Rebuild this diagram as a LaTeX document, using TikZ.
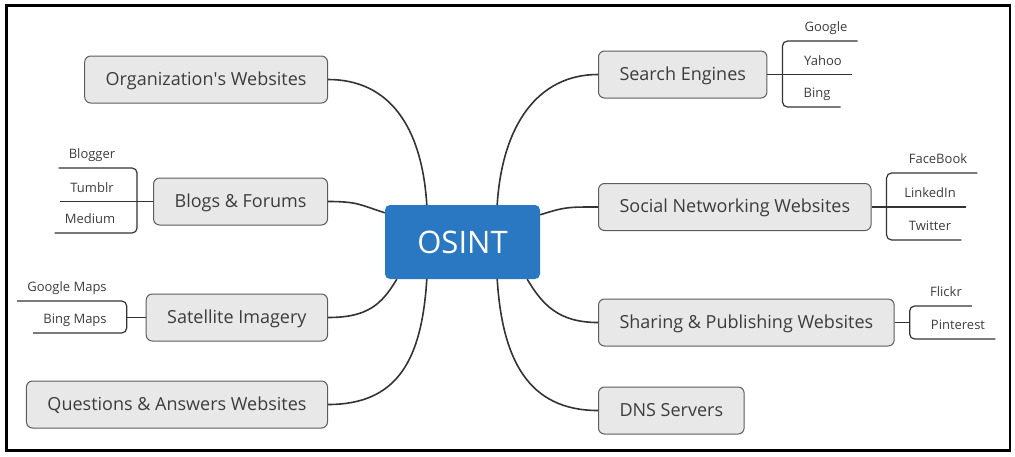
\documentclass[tikz,border=0pt]{standalone}
\usepackage{fontspec}
\setmainfont{Open Sans}
\definecolor{topicblue}{HTML}{2A78C2}
\definecolor{topicfill}{HTML}{E8E8E8}
\definecolor{topicedge}{HTML}{5C5C5C}
\definecolor{topictext}{HTML}{3C3C3C}
\definecolor{linkgray}{HTML}{333333}
\begin{document}
\begin{tikzpicture}[x=1pt, y=-1pt,
    topic/.style={draw=topicedge, fill=topicfill, rounded corners=6pt, line width=1pt,
        minimum height=47pt, inner xsep=21pt, text height=13pt, text depth=2pt,
        text=topictext, font=\fontsize{18}{21}\selectfont},
    leaf/.style={inner xsep=10pt, inner ysep=9pt, text depth=0pt, anchor=south,
        text=topictext, font=\fontsize{13}{15}\selectfont},
    branch/.style={line width=1.6pt, draw=linkgray},
    leafline/.style={line width=1.2pt, draw=linkgray, rounded corners=5pt}]

    % --- Khung ---
    \useasboundingbox (0,0) rectangle (1015,456);
    \draw[line width=2.5pt] (6.5,5.5) rectangle (1010,450.5);

    % --- Nút trung tâm ---
    \node[fill=topicblue, rounded corners=5pt, minimum width=155pt, minimum height=74pt,
        text=white, font=\fontsize{31}{36}\selectfont] (osint) at (462.5,242) {OSINT};

    % --- Nhánh bên trái ---
    \node[topic, anchor=east] (org) at (328,79.5) {Organization\textquotesingle s Websites};
    \node[topic, anchor=east] (blogs) at (328,201.5) {Blogs \& Forums};
    \node[topic, anchor=east] (sat) at (328,317.5) {Satellite Imagery};
    \node[topic, anchor=east] (qa) at (328,404.5) {Questions \& Answers Websites};

    % --- Nhánh bên phải ---
    \node[topic, anchor=west] (search) at (598,74.5) {Search Engines};
    \node[topic, anchor=west] (social) at (598,207) {Social Networking Websites};
    \node[topic, anchor=west] (share) at (598,322.5) {Sharing \& Publishing Websites};
    \node[topic, anchor=west] (dns) at (598,410.5) {DNS Servers};

    % --- Các lá ---
    \node[leaf] (google) at (826,41) {Google};
    \node[leaf] (yahoo) at (823,74.5) {Yahoo};
    \node[leaf] (bing) at (817,107) {Bing};
    \node[leaf] (facebook) at (938,173) {FaceBook};
    \node[leaf] (linkedin) at (930,207) {LinkedIn};
    \node[leaf] (twitter) at (930,240) {Twitter};
    \node[leaf] (flickr) at (946,306) {Flickr};
    \node[leaf] (pinterest) at (958,339) {Pinterest};
    \node[leaf] (blogger) at (92,168) {Blogger};
    \node[leaf] (tumblr) at (92,201.5) {Tumblr};
    \node[leaf] (medium) at (90,233) {Medium};
    \node[leaf] (gmaps) at (67,301) {Google Maps};
    \node[leaf] (bmaps) at (75,333) {Bing Maps};

    % --- Đường cong từ OSINT ---
    \draw[branch] ([xshift=42pt]osint.north west) .. controls +(-5,-80) and +(60,0) .. (org.east);
    \draw[branch] ([yshift=-8pt]osint.north west) .. controls +(-25,-8) and +(30,0) .. (blogs.east);
    \draw[branch] ([xshift=12pt]osint.south west) .. controls +(-15,25) and +(40,0) .. (sat.east);
    \draw[branch] ([xshift=42pt]osint.south west) .. controls +(-5,80) and +(70,0) .. (qa.east);
    \draw[branch] ([xshift=-43pt]osint.north east) .. controls +(5,-80) and +(-60,0) .. (search.west);
    \draw[branch] ([yshift=-10pt]osint.north east) .. controls +(25,-8) and +(-30,0) .. (social.west);
    \draw[branch] ([xshift=-13pt]osint.south east) .. controls +(15,25) and +(-40,0) .. (share.west);
    \draw[branch] ([xshift=-43pt]osint.south east) .. controls +(5,80) and +(-70,0) .. (dns.west);

    % --- Ngoặc của các lá ---
    \draw[leafline] (google.south east) -| ([xshift=15pt]search.east) |- (bing.south east);
    \draw[leafline] (search.east) -- (yahoo.south east);
    \draw[leafline] (facebook.south east) -| ([xshift=15pt]social.east) |- (twitter.south east);
    \draw[leafline] (social.east) -- (linkedin.south east);
    \draw[leafline] (flickr.south east) -| ([xshift=15pt]share.east) |- (pinterest.south east);
    \draw[leafline] (share.east) -- ([xshift=15pt]share.east);
    \draw[leafline] (blogger.south west) -| ([xshift=-16pt]blogs.west) |- (medium.south west);
    \draw[leafline] (blogs.west) -- (tumblr.south west);
    \draw[leafline] (gmaps.south west) -| ([xshift=-19pt]sat.west) |- (bmaps.south west);
    \draw[leafline] (sat.west) -- ([xshift=-19pt]sat.west);
\end{tikzpicture}
\end{document}
